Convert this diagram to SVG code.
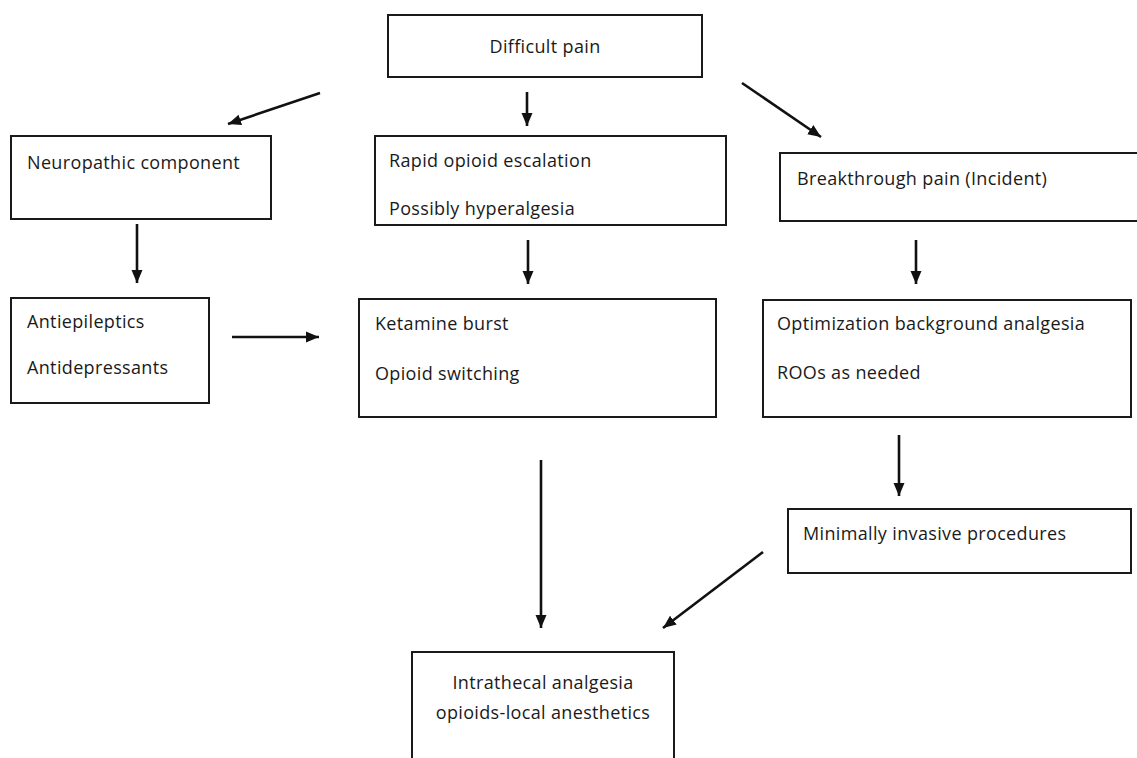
<svg xmlns="http://www.w3.org/2000/svg" width="1137" height="758" viewBox="0 0 1137 758">
<style>
.box{fill:#fff;stroke:#1a1a1a;stroke-width:2}
.t{font-family:"Open Sans","Liberation Sans",sans-serif;font-size:18px;letter-spacing:0.35px;fill:#1a1a1a}
.c{text-anchor:middle}
.ar{stroke:#111;stroke-width:2.6;fill:none;marker-end:url(#ah)}
</style>
<defs>
<marker id="ah" markerUnits="userSpaceOnUse" markerWidth="14" markerHeight="14" viewBox="0 0 14 14" refX="13" refY="7" orient="auto">
<path d="M0,1.5 L13,7 L0,12.5 Z" fill="#111"/>
</marker>
</defs>
<rect width="1137" height="758" fill="#fff"/>
<g id="n-difficult"><rect class="box" x="388" y="15" width="314" height="62"/><text class="t c" x="545" y="53">Difficult pain</text></g>
<g id="n-neuropathic"><rect class="box" x="11" y="136" width="260" height="83"/><text class="t" x="27" y="169">Neuropathic component</text></g>
<g id="n-rapid"><rect class="box" x="375" y="136" width="351" height="89"/><text class="t" x="389" y="167">Rapid opioid escalation</text><text class="t" x="389" y="215">Possibly hyperalgesia</text></g>
<g id="n-breakthrough"><rect class="box" x="780" y="153" width="370" height="68"/><text class="t" x="797" y="185">Breakthrough pain (Incident)</text></g>
<g id="n-antiepileptics"><rect class="box" x="11" y="298" width="198" height="105"/><text class="t" x="27" y="328">Antiepileptics</text><text class="t" x="27" y="374">Antidepressants</text></g>
<g id="n-ketamine"><rect class="box" x="359" y="299" width="357" height="118"/><text class="t" x="375" y="330">Ketamine burst</text><text class="t" x="375" y="380">Opioid switching</text></g>
<g id="n-optimization"><rect class="box" x="763" y="300" width="368" height="117"/><text class="t" x="777" y="330">Optimization background analgesia</text><text class="t" x="777" y="379">ROOs as needed</text></g>
<g id="n-minimally"><rect class="box" x="788" y="509" width="343" height="64"/><text class="t" x="803" y="540">Minimally invasive procedures</text></g>
<g id="n-intrathecal"><rect class="box" x="412" y="652" width="262" height="120"/><text class="t c" x="543" y="689">Intrathecal analgesia</text><text class="t c" x="543" y="719">opioids-local anesthetics</text></g>
<g id="connectors">
<line class="ar" x1="320" y1="93" x2="228" y2="124"/>
<line class="ar" x1="527" y1="92" x2="527" y2="126"/>
<line class="ar" x1="742" y1="83" x2="821" y2="137"/>
<line class="ar" x1="137" y1="224" x2="137" y2="283"/>
<line class="ar" x1="528" y1="240" x2="528" y2="284"/>
<line class="ar" x1="916" y1="240" x2="916" y2="284"/>
<line class="ar" x1="232" y1="337" x2="319" y2="337"/>
<line class="ar" x1="899" y1="435" x2="899" y2="496"/>
<line class="ar" x1="541" y1="460" x2="541" y2="628"/>
<line class="ar" x1="763" y1="552" x2="663" y2="628"/>
</g>
</svg>
